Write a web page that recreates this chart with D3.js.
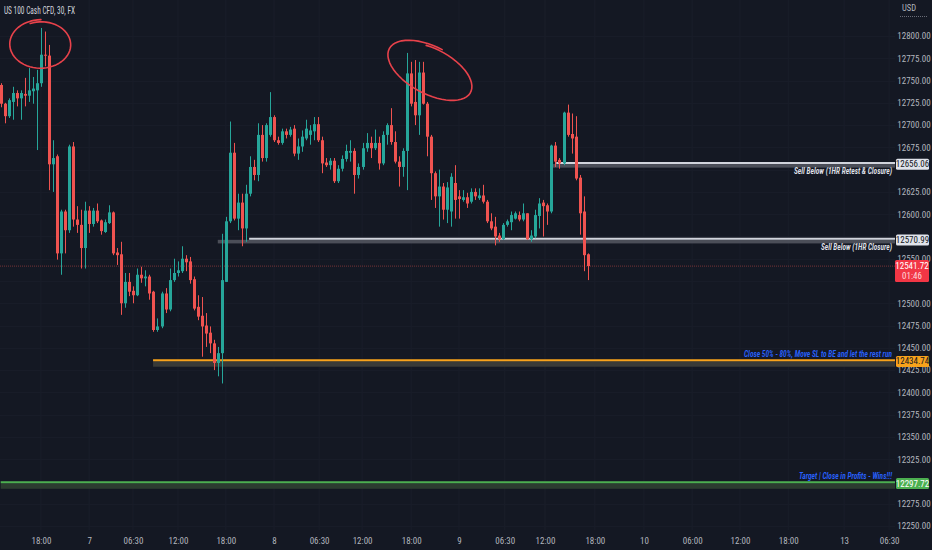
<!DOCTYPE html>
<html>
<head>
<meta charset="utf-8">
<title>US 100 Cash CFD, 30, FX</title>
<script src="https://d3js.org/d3.v7.min.js"></script>
<style>
  html, body { margin: 0; padding: 0; background: #141823; overflow: hidden; }
  svg { display: block; }
  text { font-family: "Liberation Sans Narrow", "Roboto Condensed", "DejaVu Sans Condensed", "Liberation Sans", sans-serif; }
</style>
</head>
<body>
<svg width="932" height="550"></svg>
<script>
// 30 minute candles
const opens = [12745,12724,12710,12726,12736,12730,12735,12733,12738,12739,12747,12779,12778,12656,12665,12556,12603,12582,12676,12594,
  12588,12562,12604,12589,12604,12593,12580,12590,12602,12557,12555,12500,12524,12514,12509,12532,12528,12530,12513,12470,
  12474,12511,12493,12526,12534,12536,12550,12547,12527,12496,12486,12475,12467,12455,12433,12444,12524,12592,12669,12595,
  12613,12584,12623,12653,12644,12689,12663,12689,12709,12683,12680,12693,12689,12696,12668,12676,12685,12689,12693,12701,
  12683,12658,12655,12660,12637,12651,12662,12669,12671,12644,12653,12674,12680,12674,12680,12657,12689,12700,12681,12659,
  12653,12671,12758,12726,12711,12759,12724,12687,12646,12620,12631,12605,12603,12635,12620,12616,12619,12614,12625,12618,
  12621,12614,12592,12586,12576,12572,12588,12591,12595,12599,12594,12601,12572,12575,12598,12613,12610,12603,12677,12661,
  12657,12714,12690,12687,12641,12603,12555];
const highs = [12747,12725,12730,12743,12739,12739,12753,12764,12754,12762,12809,12805,12790,12683,12667,12605,12605,12678,12681,12609,
  12605,12614,12609,12607,12612,12594,12594,12610,12603,12562,12569,12534,12534,12519,12539,12541,12537,12532,12514,12483,
  12513,12517,12539,12550,12547,12564,12554,12552,12530,12509,12507,12489,12474,12459,12451,12578,12597,12704,12680,12623,
  12623,12633,12665,12661,12702,12700,12702,12737,12711,12687,12696,12696,12698,12700,12685,12694,12706,12700,12709,12709,
  12687,12663,12663,12663,12655,12666,12678,12683,12674,12657,12680,12691,12687,12695,12687,12693,12702,12719,12693,12665,
  12674,12781,12771,12773,12771,12771,12726,12689,12648,12650,12635,12636,12646,12655,12627,12627,12624,12629,12629,12629,
  12633,12616,12601,12597,12579,12590,12594,12603,12603,12603,12612,12601,12582,12605,12618,12616,12612,12678,12681,12663,
  12715,12723,12713,12710,12644,12620,12556];
const lows = [12720,12702,12708,12706,12721,12706,12721,12726,12724,12672,12743,12766,12627,12625,12549,12532,12556,12579,12586,12579,
  12539,12539,12579,12586,12590,12577,12579,12589,12554,12543,12487,12495,12508,12500,12508,12523,12519,12504,12468,12468,
  12472,12489,12491,12524,12530,12534,12536,12522,12492,12481,12440,12451,12444,12425,12418,12410,12524,12590,12593,12582,
  12564,12569,12620,12638,12637,12659,12659,12687,12681,12678,12678,12685,12687,12665,12661,12670,12683,12678,12683,12681,
  12646,12653,12650,12635,12635,12648,12659,12659,12623,12640,12650,12670,12663,12672,12650,12655,12678,12678,12657,12631,
  12642,12627,12721,12700,12689,12723,12665,12616,12607,12586,12594,12590,12586,12595,12595,12614,12607,12612,12616,12616,
  12612,12590,12582,12565,12569,12571,12586,12582,12594,12592,12592,12571,12569,12573,12584,12575,12588,12601,12653,12651,
  12655,12687,12668,12638,12577,12536,12526];
const closes = [12724,12710,12728,12736,12730,12736,12733,12739,12741,12747,12779,12778,12656,12663,12556,12603,12582,12676,12594,12588,
  12562,12604,12589,12604,12592,12581,12591,12602,12556,12554,12500,12524,12513,12509,12532,12528,12530,12511,12470,12474,
  12511,12493,12526,12534,12537,12550,12546,12526,12494,12485,12474,12466,12455,12433,12444,12526,12592,12669,12595,12613,
  12584,12623,12653,12644,12689,12663,12700,12709,12683,12680,12693,12689,12695,12668,12676,12687,12696,12694,12701,12683,
  12657,12655,12660,12637,12651,12662,12671,12671,12644,12653,12674,12680,12674,12680,12657,12689,12700,12681,12659,12653,
  12671,12758,12724,12711,12759,12724,12687,12646,12620,12631,12605,12630,12642,12616,12617,12619,12612,12625,12620,12621,
  12614,12592,12584,12575,12572,12588,12592,12599,12601,12594,12601,12572,12576,12599,12612,12609,12603,12677,12659,12657,
  12714,12689,12685,12640,12601,12554,12541.72];

const priceTicks = d3.range(12250, 12801, 25);
const timeTickIdx = [10, 22, 32.9, 44.1, 56, 68, 79.2, 89.9, 102.1, 114, 125.4, 135.4, 147.8, 160, 172, 183.9, 195.9, 209.8, 221];
const timeTickText = ["18:00","7","06:30","12:00","18:00","8","06:30","12:00","18:00","9","06:30","12:00","18:00","10","06:00","12:00","18:00","13","06:30"];

// horizontal levels drawn on the chart
const levelPrices = [12656.06, 12570.99, 12434.74, 12297.72];
const levelFrom = [138.2, 61.8, 37.9, 0];
const levelStubFrom = [137.2, 54, 37.9, 0];
const levelNotes = ["Sell Below (1HR Retest & Closure)", "Sell Below (1HR Closure)",
  "Close 50% - 80%, Move SL to BE and let the rest run", "Target | Close in Profits - Wins!!!"];

// hand drawn circles: centre (bar index, price), half span (bars, price), tilt
const ringIdx = [10, 107];
const ringPrice = [12790.5, 12760.7];
const ringSpanIdx = [7.2, 10.9];
const ringSpanPrice = [25.3, 24.7];
const ringTilt = [0, 28];

const lastPrice = 12541.72;
const countdown = "01:46";

const W = 932, H = 550, plotRight = 895;
const svg = d3.select("svg");

const x = d3.scaleLinear().domain([0, 222]).range([0.7, 0.7 + 4.02 * 222]);
const y = d3.scaleLinear().domain([12250, 12800]).range([526, 36]);

const style = {
  bg: "#141823", up: "#26a69a", down: "#ef5350", axisText: "#b2b5be",
  level: ["#d1d4dc", "#d1d4dc", "#f7a21b", "#4caf50"],
  band: ["#5d606b", "#5d606b", "#3d3e3a", "#2f4032"],
  box: ["#e0e3eb", "#e0e3eb", "#f7a21b", "#4caf50"],
  boxText: ["#131722", "#131722", "#131722", "#ffffff"],
  note: ["#e0e3eb", "#e0e3eb", "#2962ff", "#2962ff"],
  noteLen: [98, 71, 148, 93],
  ring: "#e8424b"
};

svg.append("rect").attr("width", W).attr("height", H).attr("fill", style.bg);

svg.append("defs").append("clipPath").attr("id", "plot")
  .append("rect").attr("x", 0).attr("y", 0).attr("width", plotRight).attr("height", 530);

// faint grid
const grid = svg.append("g").attr("clip-path", "url(#plot)");
grid.selectAll("line.v").data(timeTickIdx).join("line")
  .attr("x1", d => x(d)).attr("x2", d => x(d)).attr("y1", 0).attr("y2", 530)
  .attr("stroke", "#1a1e2a").attr("stroke-width", 1);
grid.selectAll("line.h").data(priceTicks).join("line")
  .attr("x1", 0).attr("x2", plotRight).attr("y1", d => Math.round(y(d)) + 0.5).attr("y2", d => Math.round(y(d)) + 0.5)
  .attr("stroke", "#181c28").attr("stroke-width", 1);

const plot = svg.append("g").attr("clip-path", "url(#plot)");

// current price line
plot.append("line")
  .attr("x1", 0).attr("x2", plotRight)
  .attr("y1", y(lastPrice)).attr("y2", y(lastPrice))
  .attr("stroke", "#ef5350").attr("stroke-opacity", 0.45)
  .attr("stroke-dasharray", "1,1");

// level lines
levelPrices.forEach((p, k) => {
  const ly = y(p);
  plot.append("rect")
    .attr("x", x(levelStubFrom[k])).attr("width", plotRight - x(levelStubFrom[k]))
    .attr("y", ly - 0.2).attr("height", k < 2 ? 3.6 : 5.5)
    .attr("fill", style.band[k]).attr("opacity", k < 2 ? 0.75 : 0.9);
  plot.append("line")
    .attr("x1", x(levelFrom[k])).attr("x2", plotRight)
    .attr("y1", ly - 1.2).attr("y2", ly - 1.2)
    .attr("stroke", style.level[k]).attr("stroke-width", 2);
});

// candles
const candles = opens.map((o, i) => ({ i, o, h: highs[i], l: lows[i], c: closes[i] }));
const cg = plot.append("g");
cg.selectAll("line").data(candles).join("line")
  .attr("x1", d => Math.round(x(d.i)) + 0.5).attr("x2", d => Math.round(x(d.i)) + 0.5)
  .attr("y1", d => y(d.h)).attr("y2", d => y(d.l))
  .attr("stroke", d => d.c >= d.o ? style.up : style.down).attr("stroke-width", 1);
cg.selectAll("rect").data(candles).join("rect")
  .attr("x", d => Math.round(x(d.i)) - 1)
  .attr("width", 3)
  .attr("y", d => y(Math.max(d.o, d.c)))
  .attr("height", d => Math.max(1, Math.abs(y(d.o) - y(d.c))))
  .attr("fill", d => d.c >= d.o ? style.up : style.down);

// level notes
levelPrices.forEach((p, k) => {
  const ly = y(p);
  plot.append("text")
    .attr("x", 892).attr("y", k < 2 ? ly + 10 : ly - 4)
    .attr("text-anchor", "end")
    .attr("font-size", 9.5).attr("font-style", "italic").attr("font-weight", 600)
    .attr("fill", style.note[k])
    .attr("textLength", style.noteLen[k]).attr("lengthAdjust", "spacingAndGlyphs")
    .text(levelNotes[k]);
});

// circles drawn by hand
ringIdx.forEach((ci, k) => {
  const cx = x(ci), cy = y(ringPrice[k]);
  const rx = x(ci + ringSpanIdx[k]) - cx;
  const ry = y(ringPrice[k] - ringSpanPrice[k]) - cy;
  const g = plot.append("g").attr("transform", `translate(${cx},${cy}) rotate(${ringTilt[k]})`);
  const path = d3.path();
  // open loop with a small overshoot at the top
  const n = 60;
  for (let s = 0; s <= n; s++) {
    const t = -Math.PI * 0.62 + (s / n) * Math.PI * 2.12;
    const grow = 1 + 0.1 * (s / n);
    const px = Math.cos(t) * rx * grow, py = Math.sin(t) * ry * grow;
    if (s === 0) path.moveTo(px, py); else path.lineTo(px, py);
  }
  g.append("path").attr("d", path.toString())
    .attr("fill", "none").attr("stroke", style.ring).attr("stroke-width", 1.6)
    .attr("stroke-linecap", "round").attr("stroke-linejoin", "round");
});

// price axis (labels sitting under a price box are left out, as they are hidden there)
const boxYs = levelPrices.map(p => y(p));
const hidden = d => boxYs.some(b => Math.abs(y(d) - b) < 6) || (y(d) > y(lastPrice) + 2 && y(d) < y(lastPrice) + 18);
const yAxis = svg.append("g")
  .attr("transform", `translate(914,0)`)
  .call(d3.axisRight(y).tickValues(priceTicks.filter(d => !hidden(d))).tickFormat(d3.format(".2f")).tickSize(0).tickPadding(0));
yAxis.select(".domain").remove();
yAxis.selectAll("text")
  .attr("text-anchor", "middle").attr("fill", style.axisText)
  .attr("font-size", 9).attr("font-family", null);

// time axis
const xAxis = svg.append("g")
  .attr("transform", `translate(0,538)`)
  .call(d3.axisBottom(x).tickValues(timeTickIdx).tickFormat((d, k) => timeTickText[k]).tickSize(0).tickPadding(0));
xAxis.select(".domain").remove();
xAxis.selectAll("text")
  .attr("fill", style.axisText).attr("font-size", 9).attr("font-family", null);

// level price boxes
levelPrices.forEach((p, k) => {
  const ly = y(p);
  svg.append("rect").attr("x", 896).attr("y", ly - 5.5).attr("width", 33).attr("height", 11)
    .attr("rx", 1.5).attr("fill", style.box[k]);
  svg.append("text").attr("x", 912.5).attr("y", ly).attr("dy", "0.34em")
    .attr("text-anchor", "middle").attr("font-size", 9).attr("fill", style.boxText[k])
    .text(d3.format(".2f")(p));
});

// last price box with countdown
const lp = y(lastPrice);
svg.append("rect").attr("x", 895).attr("y", lp - 6).attr("width", 34).attr("height", 22)
  .attr("rx", 1.5).attr("fill", "#f23645");
svg.append("text").attr("x", 912).attr("y", lp).attr("dy", "0.34em")
  .attr("text-anchor", "middle").attr("font-size", 9).attr("fill", "#ffffff")
  .text(d3.format(".2f")(lastPrice));
svg.append("text").attr("x", 912).attr("y", lp + 10).attr("dy", "0.34em")
  .attr("text-anchor", "middle").attr("font-size", 9).attr("fill", "#ffd9dc")
  .text(countdown);

// currency label
svg.append("text").attr("x", 902).attr("y", 11).attr("font-size", 8.5)
  .attr("fill", style.axisText).text("USD");
svg.append("line").attr("x1", 900).attr("x2", 928).attr("y1", 16.5).attr("y2", 16.5)
  .attr("stroke", "#6a6d78").attr("stroke-dasharray", "1,1");

// title
svg.append("text").attr("x", 4).attr("y", 14).attr("font-size", 10.5)
  .attr("fill", "#d1d4dc").attr("textLength", 71).attr("lengthAdjust", "spacingAndGlyphs")
  .text("US 100 Cash CFD, 30, FX");
</script>
</body>
</html>
